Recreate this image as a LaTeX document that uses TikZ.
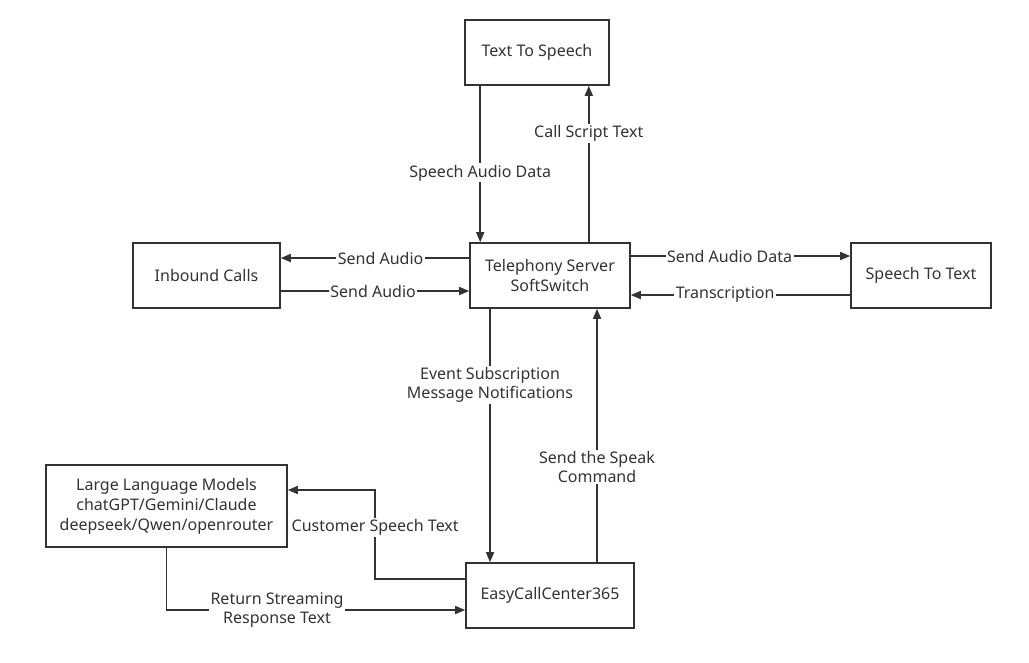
\documentclass[tikz,border=0pt]{standalone}
\usepackage{fontspec}
\setmainfont{Noto Sans}
\usetikzlibrary{arrows.meta,calc}
\definecolor{ink}{HTML}{333333}
\tikzset{
  box/.style={draw=ink, line width=1.6pt, text=ink, align=center, inner sep=0pt,
              font=\fontsize{16}{20}\selectfont},
  arr/.style={draw=ink, line width=1.6pt, -{Triangle[length=10pt,width=8pt]}},
  lbl/.style={fill=white, text=ink, align=center, inner sep=1.5pt,
              font=\fontsize{16}{19.5}\selectfont},
}
\begin{document}
\begin{tikzpicture}[x=1pt,y=-1pt]
\useasboundingbox (0,0) rectangle (1029,662);
\node[box, minimum width=144pt, minimum height=65pt] (tts) at (537,52.5) {Text To Speech};
\node[box, minimum width=147pt, minimum height=65pt] (inb) at (206.5,275.5) {Inbound Calls};
\node[box, minimum width=160pt, minimum height=65pt] (tel) at (550,275.5) {Telephony Server\\SoftSwitch};
\node[box, minimum width=140pt, minimum height=65pt] (stt) at (921,275.5) {Speech To Text};
\node[box, minimum width=241pt, minimum height=82pt] (llm) at (166.5,506) {Large Language Models\\chatGPT/Gemini/Claude\\deepseek/Qwen/openrouter};
\node[box, minimum width=168pt, minimum height=65pt] (ecc) at (550,595.5) {EasyCallCenter365};

% TTS <-> Telephony
\draw[arr] ([xshift=16pt]tts.south west) -- ([xshift=16pt]tts.south west |- tel.north)
  node[lbl, pos=0.557] {Speech Audio Data};
\draw[arr] ([xshift=-42pt]tel.north east) -- ([xshift=-42pt]tel.north east |- tts.south)
  node[lbl, pos=0.696] {Call Script Text};

% Telephony <-> Inbound
\draw[arr] ([yshift=17.5pt]tel.west) -- ([yshift=17.5pt]tel.west -| inb.east)
  node[lbl, pos=0.47] {Send Audio};
\draw[arr] ([yshift=-15.5pt]inb.east) -- ([yshift=-15.5pt]inb.east -| tel.west)
  node[lbl, pos=0.49] {Send Audio};

% Telephony <-> STT
\draw[arr] ([yshift=19.5pt]tel.east) -- ([yshift=19.5pt]tel.east -| stt.west)
  node[lbl, pos=0.45] {Send Audio Data};
\draw[arr] ([yshift=-19.5pt]stt.west) -- ([yshift=-19.5pt]stt.west -| tel.east)
  node[lbl, pos=0.57] {Transcription};

% Telephony <-> ECC
\draw[arr] ([xshift=-60pt]tel.south) -- ([xshift=-60pt]tel.south |- ecc.north)
  node[lbl, pos=0.30] {Event Subscription\\Message Notifications};
\draw[arr] ([xshift=47pt]ecc.north) -- ([xshift=47pt]ecc.north |- tel.south)
  node[lbl, pos=0.376] {Send the Speak\\Command};

% ECC <-> LLM
\draw[arr] ([yshift=16.5pt]ecc.west) -- ++(-90,0) |- ([yshift=16pt]llm.east)
  node[lbl, pos=0.29] {Customer Speech Text};
\draw[arr] (llm.south) |- ([yshift=-14.5pt]ecc.west)
  node[lbl, pos=0.685] {Return Streaming\\Response Text};
\end{tikzpicture}
\end{document}
